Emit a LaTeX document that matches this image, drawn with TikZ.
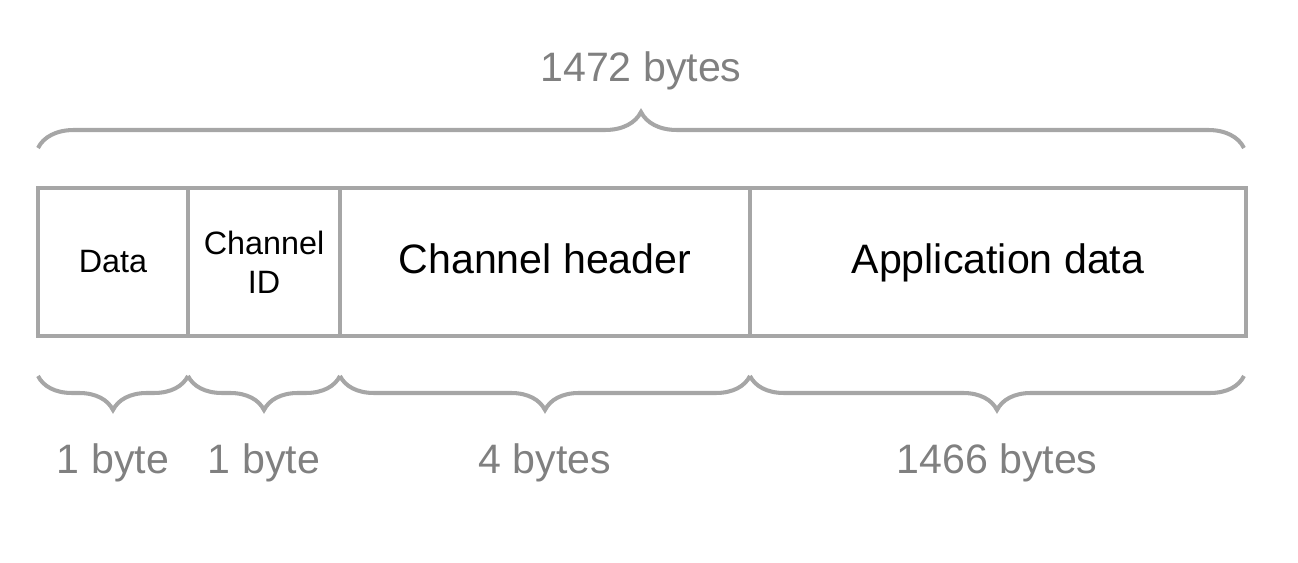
\documentclass[tikz,border=0pt]{standalone}
\usepackage{fontspec}
\setmainfont{Liberation Sans}
\usepackage{tikz}
\usetikzlibrary{positioning, calc, decorations.pathreplacing}
\usepackage{xcolor}
\definecolor{framegray}{HTML}{A6A6A6}
\definecolor{labelgray}{HTML}{808080}

\begin{document}
\begin{tikzpicture}[
    cell/.style={draw=framegray, line width=1.15pt, minimum height=1.48cm,
                 inner sep=0pt, outer sep=0pt, align=center},
    big/.style={font=\fontsize{11.7}{14}\selectfont},
    small/.style={font=\fontsize{9.2}{11.0}\selectfont},
    brcup/.style={draw=framegray, line width=1.15pt, decorate,
                  decoration={brace, amplitude=0.36cm}},
    brcdown/.style={draw=framegray, line width=1.15pt, decorate,
                    decoration={brace, mirror, amplitude=0.34cm}},
    lbl/.style={big, text=labelgray}
  ]
    \useasboundingbox (0,0) rectangle (12.98,5.63);

    % the packet cells
    \node[cell, small, minimum width=1.50cm] (data) at (1.13, 3.01) {Data};
    \node[cell, small, minimum width=1.52cm, right=0pt of data] (chid) {Channel\\ID};
    \node[cell, big, text depth=0.21em, minimum width=4.10cm, right=0pt of chid] (chhdr) {Channel header};
    \node[cell, big, text depth=0.21em, minimum width=4.96cm, right=0pt of chhdr] (appdata) {Application data};

    % total size
    \draw[brcup] ([yshift=0.4cm]data.north west) --
      node[lbl, midway, yshift=0.77cm] (total) {1472 bytes}
      ([xshift=-0.02cm, yshift=0.4cm]appdata.north east);

    % field sizes
    \draw[brcdown] ([yshift=-0.4cm]data.south west) --
      node[lbl, midway, yshift=-0.87cm] (szdata) {1 byte}
      ([yshift=-0.4cm]data.south east);
    \draw[brcdown] ([yshift=-0.4cm]chid.south west) --
      node[lbl, midway, yshift=-0.87cm] (szchid) {1 byte}
      ([yshift=-0.4cm]chid.south east);
    \draw[brcdown] ([yshift=-0.4cm]chhdr.south west) --
      node[lbl, midway, yshift=-0.87cm] (szchhdr) {4 bytes}
      ([yshift=-0.4cm]chhdr.south east);
    \draw[brcdown] ([yshift=-0.4cm]appdata.south west) --
      node[lbl, midway, yshift=-0.87cm] (szappdata) {1466 bytes}
      ([xshift=-0.02cm, yshift=-0.4cm]appdata.south east);
  \end{tikzpicture}
\end{document}
